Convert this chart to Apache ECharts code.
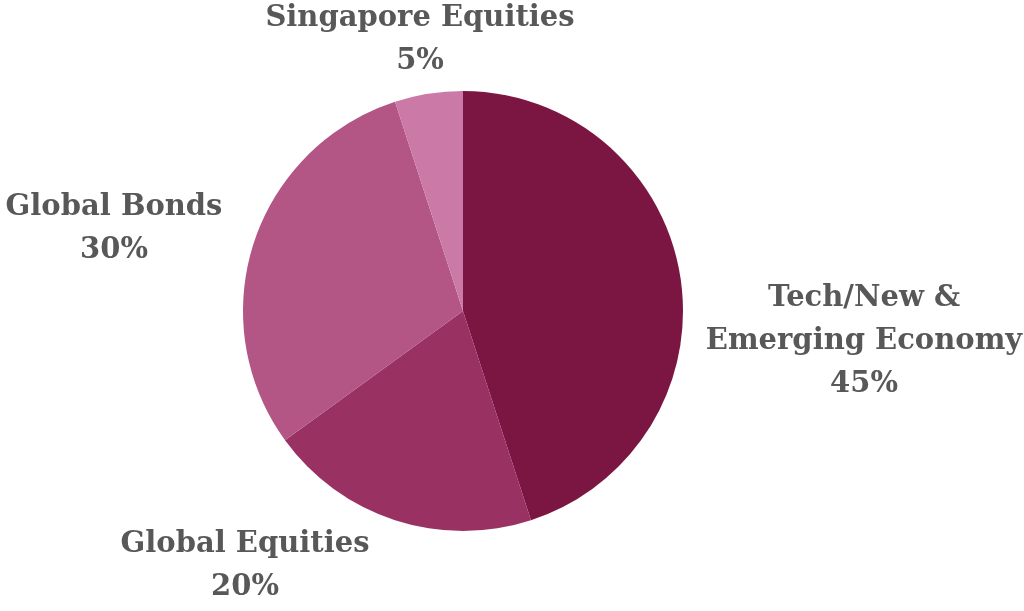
<!DOCTYPE html>
<html><head><meta charset="utf-8">
<script src="https://cdn.jsdelivr.net/npm/echarts@6/dist/echarts.min.js"></script>
<style>html,body{margin:0;padding:0;background:#fff}#c{width:1024px;height:611px}</style>
</head><body><div id="c"></div>
<script>
const categories = ['Tech/New &\nEmerging Economy', 'Global Equities', 'Global Bonds', 'Singapore Equities'];
const values = [45, 20, 30, 5];
const colors = ['#7B1542', '#9A3163', '#B35585', '#CB7AA8'];

// label block centres (layout only)
const labelCenters = [[864, 341], [245, 566], [114, 229], [420, 40]];

const chart = echarts.init(document.getElementById('c'));
chart.setOption({
  animation: false,
  backgroundColor: '#ffffff',
  series: [{
    type: 'pie',
    center: [463, 311],
    radius: [0, 220],
    startAngle: 90,
    clockwise: true,
    data: categories.map((c, i) => ({ name: c, value: values[i], itemStyle: { color: colors[i] } })),
    label: {
      show: true,
      position: 'outside',
      formatter: p => p.name + '\n' + p.value + '%',
      fontFamily: 'DejaVu Serif',
      fontWeight: 'bold',
      fontSize: 29,
      lineHeight: 43,
      color: '#585858',
      textAlign: 'center',
      overflow: 'none',
      width: 400
    },
    labelLine: { show: false },
    labelLayout: p => ({
      x: labelCenters[p.dataIndex][0],
      y: labelCenters[p.dataIndex][1],
      align: 'center',
      verticalAlign: 'middle'
    })
  }]
});
</script></body></html>
